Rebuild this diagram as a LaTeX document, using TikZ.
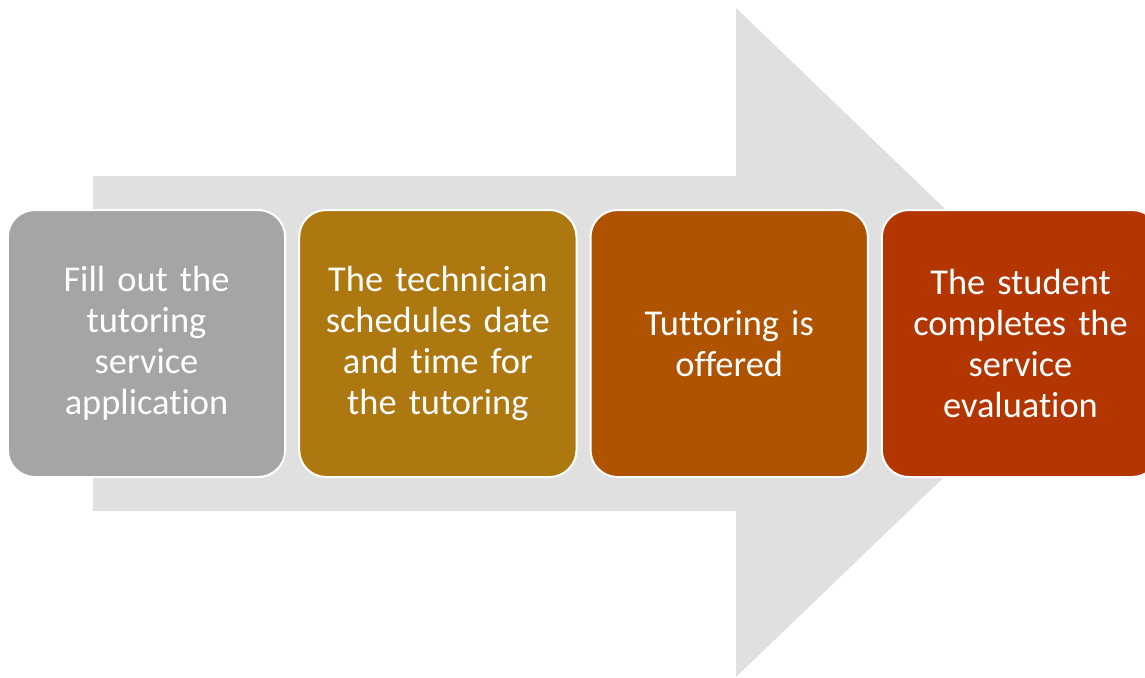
\documentclass[tikz,border=0pt]{standalone}
\usepackage{fontspec}
\setmainfont{Carlito}[Ligatures=NoCommon, WordSpace=0.7]
\usepackage{xcolor}
\usetikzlibrary{positioning}

\definecolor{arrowgray}{HTML}{E0E0E0}
\definecolor{stepgray}{HTML}{A5A5A5}
\definecolor{stepgold}{HTML}{AD780F}
\definecolor{steporange}{HTML}{AF5300}
\definecolor{stepred}{HTML}{B33600}

\tikzset{
	stepbox/.style={draw=white, line width=1pt, rounded corners=13.5pt,
		minimum width=138.5pt, minimum height=133.5pt, text width=132pt,
		align=center, text=white, font=\fontsize{18.2}{20.5}\selectfont},
}

\begin{document}
\begin{tikzpicture}[x=0.5pt, y=-0.5pt]
		\useasboundingbox (0,0) rectangle (1145,677);
		\clip (0,0) rectangle (1145,677);
		
		% big arrow behind the steps
		\fill[arrowgray] (93,176) -- (736,176) -- (736,8) -- (1084,342.5)
			-- (736,677) -- (736,511) -- (93,511) -- cycle;
		
		\node[stepbox, fill=stepgray] (apply) at (146.5,343.5)
			{Fill out the\\tutoring\\service\\application};
		\node[stepbox, fill=stepgold, right=6pt of apply] (schedule)
			{The technician\\schedules date\\and time for\\the tutoring};
		\node[stepbox, fill=steporange, right=6pt of schedule] (offer)
			{Tuttoring is\\offered};
		\node[stepbox, fill=stepred, right=6pt of offer] (evaluate)
			{The student\\completes the\\service\\evaluation};
	\end{tikzpicture}
\end{document}
